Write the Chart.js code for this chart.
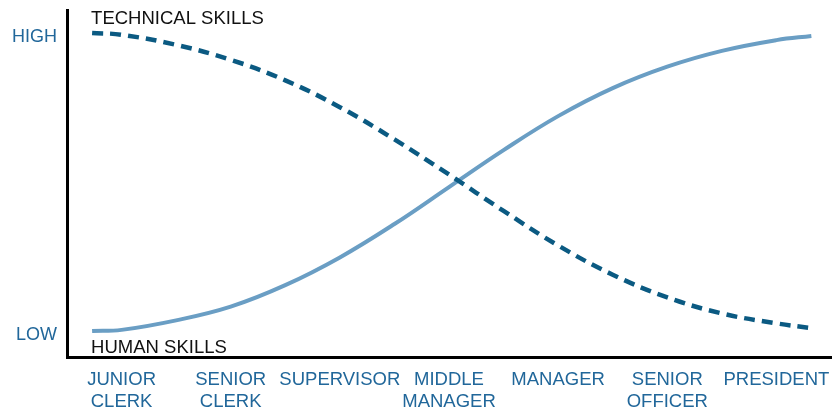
<!DOCTYPE html>
<html lang="en">
  <head>
    <meta charset="UTF-8" />
    <title>Technical vs Human Skills</title>
    <script src="https://cdn.jsdelivr.net/npm/chart.js"></script>
    <style>
      html, body {
        margin: 0;
        padding: 0;
        background: #ffffff;
      }
      .chart-box {
        width: 832px;
        height: 410px;
      }
    </style>
  </head>
  <body>
    <div class="chart-box">
      <canvas id="skillsChart"></canvas>
    </div>

    <script>
      // career stages (x axis), one tick per stage at index 0..6
      const stages = [
        ["JUNIOR", "CLERK"],
        ["SENIOR", "CLERK"],
        ["SUPERVISOR"],
        ["MIDDLE", "MANAGER"],
        ["MANAGER"],
        ["SENIOR", "OFFICER"],
        ["PRESIDENT"],
      ];
      const levelLabels = { 0: "LOW", 100: "HIGH" };

      // sample points along each curve, x in stage units
      const stageX = [-0.27, 0, 0.5, 1, 1.5, 2, 2.5, 3, 3.5, 4, 4.5, 5, 5.5, 6, 6.32];
      const technicalSkills = [101.3, 100.7, 97.3, 92.3, 85.4, 76.4, 65.6, 53.8, 41.6, 30.0, 20.2, 12.6, 7.2, 3.9, 2.3];
      const humanSkills = [1.3, 1.7, 4.9, 9.5, 16.7, 26.0, 37.2, 49.6, 62.0, 73.4, 82.8, 90.0, 95.3, 98.9, 100.3];

      const fontFamily = "'Liberation Sans', Arial, sans-serif";
      const tickColor = "#21679a";

      const toPoints = (ys) => ys.map((y, i) => ({ x: stageX[i], y: y }));

      // curve names written next to the line ends
      const curveNames = {
        id: "curveNames",
        afterDraw(chart) {
          const { ctx, chartArea, scales } = chart;
          const left = scales.x.getPixelForValue(stageX[0]);
          ctx.save();
          ctx.font = "18.5px " + fontFamily;
          ctx.fillStyle = "#111111";
          ctx.textAlign = "left";
          ctx.textBaseline = "alphabetic";
          ctx.fillText("TECHNICAL SKILLS", left - 1, chartArea.top + 14);
          ctx.fillText("HUMAN SKILLS", left - 1, chartArea.bottom - 4);
          ctx.restore();
        },
      };

      new Chart(document.getElementById("skillsChart"), {
        type: "line",
        data: {
          datasets: [
            {
              label: "Technical skills",
              data: toPoints(technicalSkills),
              borderColor: "#0b5a82",
              borderWidth: 4.5,
              borderDash: [11, 7],
              pointRadius: 0,
              tension: 0.4,
              fill: false,
            },
            {
              label: "Human skills",
              data: toPoints(humanSkills),
              borderColor: "#6a9ec4",
              borderWidth: 4,
              pointRadius: 0,
              tension: 0.4,
              fill: false,
            },
          ],
        },
        options: {
          responsive: true,
          maintainAspectRatio: false,
          animation: false,
          layout: { padding: { top: 10, right: 1, bottom: 0, left: 0 } },
          plugins: {
            legend: { display: false },
            tooltip: { enabled: false },
          },
          scales: {
            x: {
              type: "linear",
              min: -0.5,
              max: 6.5,
              grid: { display: false, drawTicks: false },
              border: { display: true, color: "#000000", width: 3 },
              afterBuildTicks: (scale) => {
                scale.ticks = stages.map((s, i) => ({ value: i }));
              },
              afterFit: (scale) => {
                scale.height = 53;
                scale.paddingLeft = 0;
                scale.paddingRight = 0;
              },
              ticks: {
                autoSkip: false,
                maxRotation: 0,
                padding: 12,
                color: tickColor,
                font: { family: fontFamily, size: 18.5, lineHeight: 1.2 },
                callback: (value) => stages[value],
              },
            },
            y: {
              min: -7.4,
              max: 109,
              grid: { display: false, drawTicks: false },
              border: { display: true, color: "#000000", width: 3 },
              afterBuildTicks: (scale) => {
                scale.ticks = [{ value: 0 }, { value: 100 }];
              },
              afterFit: (scale) => {
                scale.width = 67;
                scale.paddingTop = 0;
                scale.paddingBottom = 0;
              },
              ticks: {
                padding: 10,
                color: tickColor,
                font: { family: fontFamily, size: 18 },
                callback: (value) => levelLabels[value],
              },
            },
          },
        },
        plugins: [curveNames],
      });
    </script>
  </body>
</html>
